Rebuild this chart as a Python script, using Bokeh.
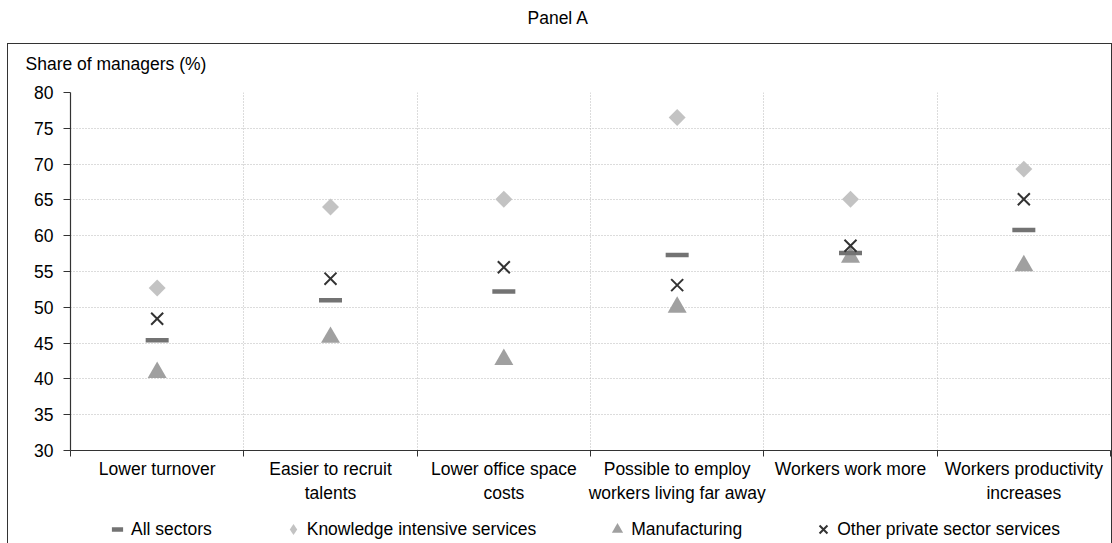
import numpy as np
from bokeh.plotting import figure
from bokeh.layouts import column
from bokeh.models import (Range1d, LinearAxis, FixedTicker, Legend, LegendItem, Title,
                          ColumnDataSource, Grid, InlineStyleSheet)
from bokeh.embed import file_html
from bokeh.resources import INLINE

# ---------------- data ----------------
categories = [
    "Lower turnover",
    "Easier to recruit\ntalents",
    "Lower office space\ncosts",
    "Possible to employ\nworkers living far away",
    "Workers work more",
    "Workers productivity\nincreases",
]
all_sectors = [45.4, 51.0, 52.2, 57.3, 57.6, 60.8]
knowledge_intensive = [52.7, 64.0, 65.1, 76.5, 65.1, 69.3]
manufacturing = [40.9, 45.8, 42.7, 50.0, 57.0, 55.8]
other_private = [48.4, 54.0, 55.6, 53.1, 58.6, 65.1]
series_names = ["All sectors", "Knowledge intensive services", "Manufacturing",
                "Other private sector services"]
y_ticks = [30, 35, 40, 45, 50, 55, 60, 65, 70, 75, 80]
y_label = "Share of managers (%)"
panel_title = "Panel A"

FONT = "Liberation Sans"
FS = "17.5px"

# marker styles per series (all, knowledge, manufacturing, other)
styles = [
    dict(marker="dash", size=23, line_width=4.5, line_color="#737373"),
    dict(marker="square", angle=np.pi / 4, size=12, fill_color="#c3c3c3", line_color=None),
    dict(marker="triangle", size=19, fill_color="#a0a0a0", line_color=None),
    dict(marker="x", size=17, line_width=2, line_color="#333333"),
]
legend_styles = [
    dict(marker="dash", size=23, line_width=4.5, line_color="#737373"),
    dict(marker="diamond", size=14, fill_color="#c3c3c3", line_color=None),
    dict(marker="triangle", size=19, fill_color="#a0a0a0", line_color=None),
    dict(marker="x", size=17, line_width=2, line_color="#333333"),
]
series_values = [all_sectors, knowledge_intensive, manufacturing, other_private]

n = len(categories)
xs = [i + 0.5 for i in range(n)]
src = ColumnDataSource(dict(x=xs, all=all_sectors, kis=knowledge_intensive,
                            man=manufacturing, oth=other_private))

p = figure(width=1112, height=512, output_backend="svg", toolbar_location=None,
           x_range=Range1d(0, n), y_range=Range1d(y_ticks[0], y_ticks[-1]),
           x_axis_type=None, y_axis_type=None,
           min_border_left=70, min_border_right=2, min_border_top=92, min_border_bottom=62,
           outline_line_color=None, background_fill_color="white", border_fill_color="white")

# outer title
p.title.text = panel_title
p.title.align = "left"
p.title.offset = 457
p.title.standoff = 10
p.title.text_font = FONT
p.title.text_font_size = FS
p.title.text_font_style = "normal"
p.title.text_color = "black"
# inner title (nearest the frame)
p.add_layout(Title(text=y_label, align="left", offset=-45, standoff=38,
                   text_font=FONT, text_font_size=FS, text_font_style="normal",
                   text_color="black"), "above")

xaxis = LinearAxis(
    ticker=FixedTicker(ticks=xs, minor_ticks=list(range(n + 1))),
    major_label_overrides={float(x): c for x, c in zip(xs, categories)},
    major_tick_line_color=None, major_tick_out=0, major_tick_in=0,
    minor_tick_out=6, minor_tick_in=0, minor_tick_line_color="#333333",
    axis_line_color="#333333", axis_line_width=1.2,
    major_label_text_font=FONT, major_label_text_font_size=FS,
    major_label_text_color="black", major_label_standoff=2)
p.add_layout(xaxis, "below")

yaxis = LinearAxis(
    ticker=FixedTicker(ticks=y_ticks),
    major_tick_out=7, major_tick_in=0, minor_tick_line_color=None,
    major_tick_line_color="#333333", axis_line_color="#333333", axis_line_width=1.2,
    major_label_text_font=FONT, major_label_text_font_size=FS,
    major_label_text_color="black", major_label_standoff=10)
p.add_layout(yaxis, "left")

p.add_layout(Grid(dimension=0, ticker=xaxis.ticker, grid_line_color=None,
                  minor_grid_line_color="#b8b8b8", minor_grid_line_dash="1 2"))
p.add_layout(Grid(dimension=1, ticker=yaxis.ticker, grid_line_color="#b8b8b8",
                  grid_line_dash="1 2"))

r_kis = p.scatter("x", "kis", source=src, **styles[1])
r_man = p.scatter("x", "man", source=src, **styles[2])
r_all = p.scatter("x", "all", source=src, **styles[0])
r_oth = p.scatter("x", "oth", source=src, **styles[3])

# legend strip: a separate small figure (its frame is aligned with the main one);
# its renderers use the same series, which fall outside its 0..1 ranges.
q = figure(width=1112, height=31, output_backend="svg", toolbar_location=None,
           x_range=Range1d(0, 1), y_range=Range1d(0, 1),
           x_axis_type=None, y_axis_type=None, min_border=0,
           outline_line_color=None, background_fill_color="white", border_fill_color="white")
leg_renderers = [q.scatter(x=xs, y=vals, **st) for st, vals in zip(legend_styles, series_values)]
legend = Legend(items=[LegendItem(label=nm, renderers=[r])
                       for nm, r in zip(series_names, leg_renderers)],
                location=(33, 0), orientation="horizontal", padding=0, margin=0,
                spacing=67, glyph_width=28, glyph_height=28, label_standoff=0,
                border_line_color=None, background_fill_alpha=0,
                label_text_font=FONT, label_text_font_size=FS, label_text_color="black")
q.add_layout(legend, "center")

box_css = InlineStyleSheet(css="""
:host { position: relative; }
:host::after {
  content: "";
  position: absolute;
  left: 7px; top: 43px; width: 1105px; height: 500px;
  box-sizing: border-box;
  border: 1.5px solid #333333; border-bottom: none;
  pointer-events: none; z-index: 10;
}
""")
layout = column(p, q, spacing=0, stylesheets=[box_css])

open("out.html", "w").write(file_html(layout, INLINE))
